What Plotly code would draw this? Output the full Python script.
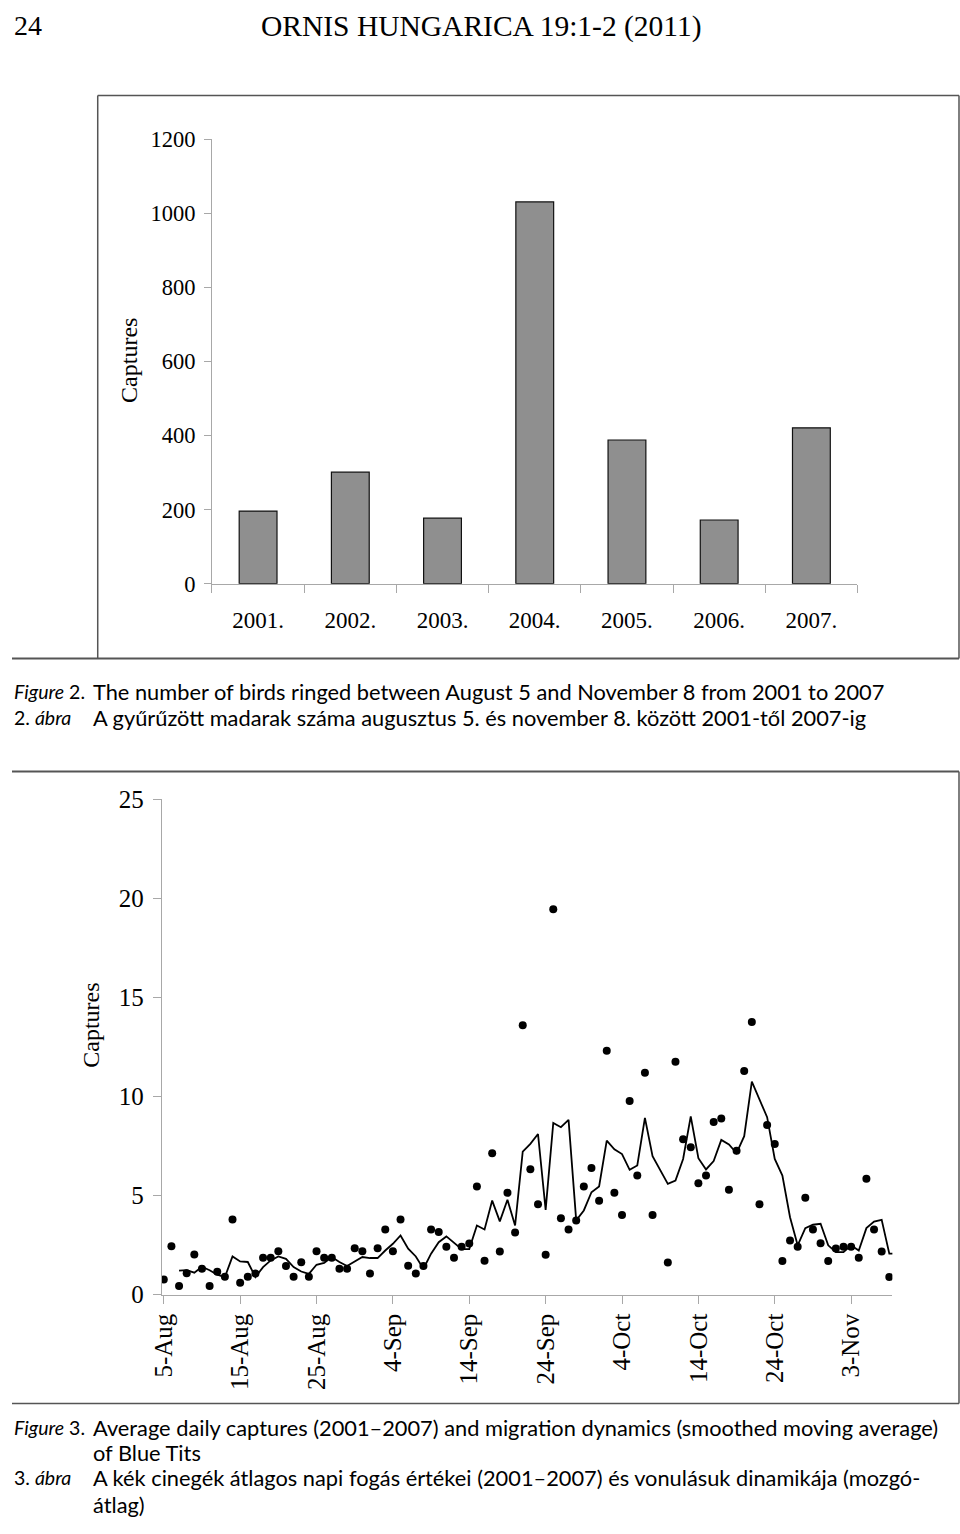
import plotly.graph_objects as go

W, H = 960, 1534
# measured mapping page-px -> photographed-px of this rendering pipeline
SX, AX0 = 0.9826, 11.7
SY, AY0 = 0.9838, 12.5

# ---------------- Figure 2 data ----------------
years = ["2001.", "2002.", "2003.", "2004.", "2005.", "2006.", "2007."]
ringed = [196, 301, 177, 1031, 388, 172, 421]

# ---------------- Figure 3 data ----------------
# day index 0 = 5 August ... 95 = 8 November
daily_captures = [
    0.76, 2.44, 0.44, 1.08, 2.03, 1.31, 0.44, 1.16, 0.90, 3.79,
    0.60, 0.90, 1.07, 1.87, 1.87, 2.19, 1.45, 0.90, 1.64, 0.90,
    2.19, 1.86, 1.86, 1.31, 1.31, 2.34, 2.19, 1.07, 2.34, 3.29,
    2.19, 3.79, 1.46, 1.07, 1.45, 3.29, 3.16, 2.42, 1.86, 2.42,
    2.58, 5.46, 1.71, 7.14, 2.18, 5.14, 3.14, 13.60, 6.33, 4.57,
    2.02, 19.45, 3.86, 3.29, 3.75, 5.46, 6.40, 4.74, 12.31, 5.14,
    4.02, 9.78, 6.01, 11.20, 4.02, None, 1.63, 11.76, 7.85, 7.44,
    5.63, 6.01, 8.72, 8.89, 5.29, 7.26, 11.29, 13.76, 4.57, 8.57,
    7.61, 1.70, 2.74, 2.42, 4.89, 3.29, 2.59, 1.70, 2.33, 2.42,
    2.42, 1.86, 5.85, 3.29, 2.18, 0.89,
]
days = list(range(len(daily_captures)))

# moving average, day index 2 ... 96
moving_avg = [
    1.21, 1.24, 1.11, 1.41, 1.23, 1.01, 0.89, 1.93, 1.68, 1.65,
    0.89, 1.39, 1.73, 1.93, 1.81, 1.39, 1.17, 1.05, 1.51, 1.60,
    1.90, 1.65, 1.45, 1.68, 1.90, 1.85, 1.85, 2.23, 2.57, 2.99,
    2.32, 1.93, 1.31, 2.07, 2.65, 2.94, 2.61, 2.30, 2.30, 3.49,
    3.29, 4.75, 3.70, 4.79, 3.49, 7.22, 7.61, 8.11, 4.28, 8.67,
    8.45, 8.82, 3.75, 4.25, 5.17, 5.46, 7.78, 7.34, 7.10, 6.30,
    6.52, 8.92, 6.99, 6.27, 5.59, 5.76, 6.85, 9.00, 6.89, 6.32,
    6.74, 7.81, 7.58, 7.14, 8.00, 10.75, 9.88, 8.96, 6.85, 6.01,
    3.91, 2.49, 3.36, 3.53, 3.58, 2.49, 2.15, 2.15, 2.49, 2.23,
    3.36, 3.69, 3.78, 2.07, 2.07,
]
ma_days = list(range(2, 2 + len(moving_avg)))

tick_days = [0, 10, 20, 30, 40, 50, 60, 70, 80, 90]
tick_labels = ["5-Aug", "15-Aug", "25-Aug", "4-Sep", "14-Sep",
               "24-Sep", "4-Oct", "14-Oct", "24-Oct", "3-Nov"]

SERIF = "Liberation Serif"
SANS = "Lato"
AX = "#a8a8a8"


def px(X):
    page = (X - AX0) / SX
    return min(max(page, 0), W) / W


def py(Y):
    page = (Y - AY0) / SY
    return 1 - min(max(page, 0), H) / H


fig = go.Figure()

fig.add_trace(go.Bar(
    x=years, y=ringed, xaxis="x", yaxis="y", width=0.41,
    marker=dict(color="#8f8f8f", line=dict(color="#111111", width=1.2)),
    hoverinfo="skip",
))

fig.add_trace(go.Scatter(
    x=ma_days, y=moving_avg, xaxis="x2", yaxis="y2", mode="lines",
    line=dict(color="black", width=1.8), hoverinfo="skip",
))
fig.add_trace(go.Scatter(
    x=days, y=daily_captures, xaxis="x2", yaxis="y2", mode="markers",
    marker=dict(color="black", size=8), hoverinfo="skip",
))

axis_common = dict(showgrid=False, zeroline=False, showline=True,
                   linecolor=AX, linewidth=1, ticks="outside",
                   tickcolor=AX, tickwidth=1, fixedrange=True)

fig.update_layout(
    width=W, height=H, margin=dict(l=0, r=0, t=0, b=0),
    paper_bgcolor="white", plot_bgcolor="white", showlegend=False,
    xaxis=dict(domain=[px(210.7), px(853)], anchor="y", type="category",
               range=[-0.5, 6.5], tickson="boundaries", ticklen=8,
               tickfont=dict(family=SERIF, size=23, color="black"),
               ticklabelstandoff=16, **axis_common),
    yaxis=dict(domain=[py(584), py(139)], anchor="x", range=[0, 1200],
               dtick=200, ticklen=7, ticklabelstandoff=4,
               tickfont=dict(family=SERIF, size=22.5, color="black"),
               **axis_common),
    xaxis2=dict(domain=[px(160.6), px(887.7)], anchor="y2",
                range=[-0.28, 95.4], tickmode="array", tickvals=tick_days,
                ticktext=tick_labels, tickangle=-90, ticklen=8,
                ticklabelstandoff=0,
                tickfont=dict(family=SERIF, size=25, color="black"),
                **axis_common),
    yaxis2=dict(domain=[py(1296), py(800)], anchor="x2", range=[0, 25],
                dtick=5, ticklen=8, ticklabelstandoff=4,
                tickfont=dict(family=SERIF, size=25, color="black"),
                **axis_common),
)

ann = []


def text(x, y, s, size, family, xanchor="left", angle=0, yanchor="middle",
         ypaper=None):
    ann.append(dict(x=px(x), y=py(y) if ypaper is None else ypaper,
                    xref="paper", yref="paper", text=s,
                    showarrow=False, xanchor=xanchor, yanchor=yanchor,
                    textangle=angle,
                    font=dict(family=family, size=size, color="black")))


# page header, nudged up to the top edge of the drawable page
TOP = 1 + 5 / H
text(12, 0, "24", 28, SERIF, yanchor="top", ypaper=TOP)
text(479, 0, "ORNIS HUNGARICA 19:1-2 (2011)", 29.5, SERIF,
     xanchor="center", yanchor="top", ypaper=TOP)

# axis titles
text(128, 360, "Captures", 24, SERIF, xanchor="center", angle=-90)
text(90, 1026, "Captures", 24, SERIF, xanchor="center", angle=-90)

# captions
CAP = 21.8
LAB = 19.5
text(12, 692, "<i>Figure</i> 2.", LAB, SANS)
text(90, 692, "The number of birds ringed between August 5 and November 8 from 2001 to 2007", CAP, SANS)
text(12, 718, "2. <i>ábra</i>", LAB, SANS)
text(90, 718, "A gyűrűzött madarak száma augusztus 5. és november 8. között 2001-től 2007-ig", CAP, SANS)

text(12, 1429, "<i>Figure</i> 3.", LAB, SANS)
text(90, 1429, "Average daily captures (2001–2007) and migration dynamics (smoothed moving average)", CAP, SANS)
text(90, 1454, "of Blue Tits", CAP, SANS)
text(12, 1479, "3. <i>ábra</i>", LAB, SANS)
text(90, 1479, "A kék cinegék átlagos napi fogás értékei (2001–2007) és vonulásuk dinamikája (mozgó-", CAP, SANS)
text(90, 1540, "átlag)", CAP, SANS, yanchor="bottom")

fig.update_layout(annotations=ann)

FR = "#555555"
shapes = []


def seg(x0, y0, x1, y1, w=1.5):
    shapes.append(dict(type="line", xref="paper", yref="paper",
                       x0=px(x0), y0=py(y0), x1=px(x1), y1=py(y1),
                       line=dict(color=FR, width=w)))


# frame of figure 2
seg(97, 95, 954, 95)
seg(97, 95, 97, 659)
seg(954, 95, 954, 659)
seg(0, 659, 954, 659, 2)
# frame of figure 3
seg(0, 772, 954, 772, 2)
seg(954, 772, 954, 1405)
seg(0, 1405, 954, 1405)

fig.update_layout(shapes=shapes)

fig.write_html("out.html", post_script="document.body.style.margin='0';",
               config={"displayModeBar": False})
